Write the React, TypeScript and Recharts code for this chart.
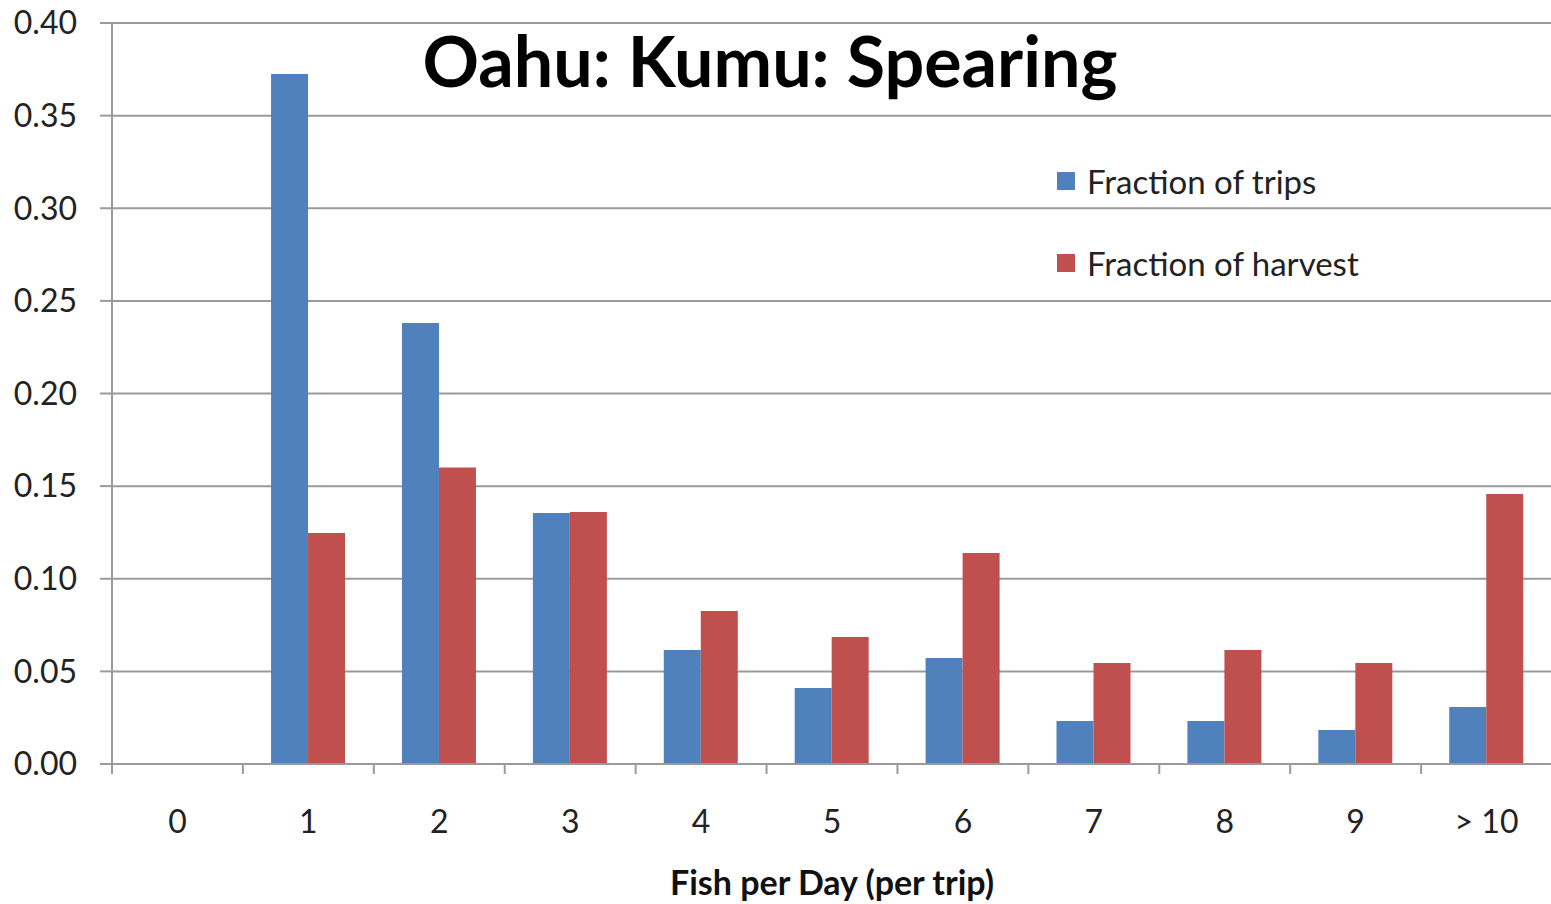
import React from 'react';
import { BarChart, Bar, XAxis, YAxis, CartesianGrid } from 'recharts';

const categories = ['0', '1', '2', '3', '4', '5', '6', '7', '8', '9', '> 10'];
const fractionOfTrips = [0, 0.3725, 0.238, 0.1355, 0.0615, 0.041, 0.0572, 0.0232, 0.0232, 0.0184, 0.0308];
const fractionOfHarvest = [0, 0.1247, 0.16, 0.136, 0.0826, 0.0686, 0.1139, 0.0545, 0.0615, 0.0545, 0.1457];
const yTicks = [0, 0.05, 0.1, 0.15, 0.2, 0.25, 0.3, 0.35, 0.4];
const seriesNames = ['Fraction of trips', 'Fraction of harvest'];

const data = categories.map((c, i) => ({
  category: c,
  trips: fractionOfTrips[i],
  harvest: fractionOfHarvest[i],
}));

const FONT = 'Lato, "Open Sans", sans-serif';
const BLUE = '#4F81BD';
const RED = '#C0504D';
const AXIS = '#9A9A9A';
const W = 1552;
const H = 904;
const LEFT = 112;
const PLOT_W = W - LEFT;
const BAND = PLOT_W / categories.length;

const XTick = (props: any) => {
  const { x, y, payload } = props;
  return (
    <g>
      <line x1={x - BAND / 2} x2={x - BAND / 2} y1={y - 10} y2={y} stroke={AXIS} strokeWidth={2} />
      <text x={x} y={y + 59} textAnchor="middle" fontFamily={FONT} fontSize={32} fill="#222">
        {payload.value}
      </text>
    </g>
  );
};

export default function App() {
  const colors = [BLUE, RED];
  return (
    <div style={{ position: 'fixed', left: 0, top: 0, width: W, height: H, background: '#fff', overflow: 'hidden' }}>
      <BarChart
        width={W}
        height={H}
        data={data}
        margin={{ top: 23, right: 0, bottom: 0, left: 0 }}
        barGap={0}
        barCategoryGap="21.5%"
      >
        <CartesianGrid vertical={false} stroke={AXIS} strokeWidth={2} />
        <YAxis
          width={LEFT}
          domain={[0, 0.4]}
          ticks={yTicks}
          interval={0}
          tickFormatter={(v: number) => v.toFixed(2)}
          axisLine={{ stroke: AXIS, strokeWidth: 2 }}
          tickLine={{ stroke: AXIS, strokeWidth: 2 }}
          tickSize={12}
          tickMargin={23}
          tick={{ fontFamily: FONT, fontSize: 32, fill: '#222' }}
        />
        <XAxis
          dataKey="category"
          height={140}
          interval={0}
          axisLine={{ stroke: AXIS, strokeWidth: 2 }}
          tickLine={false}
          tickSize={10}
          tickMargin={0}
          tick={<XTick />}
        />
        <Bar dataKey="trips" name={seriesNames[0]} fill={BLUE} isAnimationActive={false} />
        <Bar dataKey="harvest" name={seriesNames[1]} fill={RED} isAnimationActive={false} />
        <text x={770} y={87} textAnchor="middle" fontFamily={FONT} fontSize={70} fontWeight={700} fill="#000">
          Oahu: Kumu: Spearing
        </text>
        <text x={832} y={895} textAnchor="middle" fontFamily={FONT} fontSize={34} fontWeight={700} fill="#111">
          Fish per Day (per trip)
        </text>
      </BarChart>
      <div style={{ position: 'absolute', left: 1057, top: 160, fontFamily: FONT, fontSize: 33, color: '#222' }}>
        {seriesNames.map((name, i) => (
          <div key={i} style={{ display: 'flex', alignItems: 'center', height: 42, marginBottom: i === 0 ? 40 : 0 }}>
            <span style={{ width: 18, height: 18, background: colors[i], display: 'inline-block', marginRight: 12 }} />
            <span>{name}</span>
          </div>
        ))}
      </div>
    </div>
  );
}
